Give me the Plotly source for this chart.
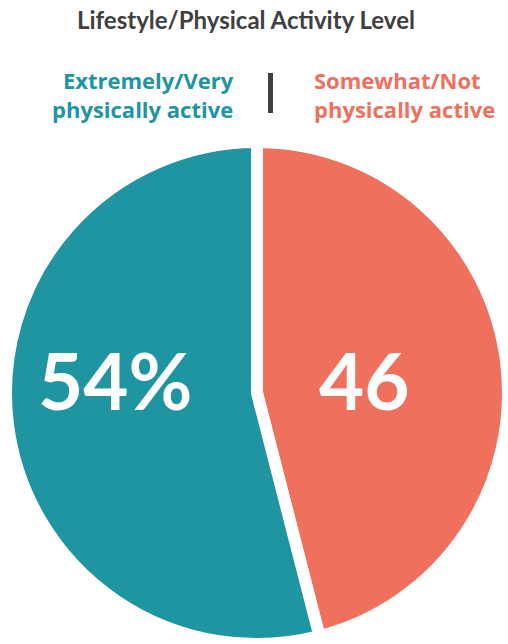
import plotly.graph_objects as go

# Survey split, listed clockwise from 12 o'clock
categories = ["Somewhat/Not physically active", "Extremely/Very physically active"]
values = [46, 54]
colors = ["#EE705D", "#1E95A0"]

title_text = "Lifestyle/Physical Activity Level"
left_label = ["Extremely/Very", "physically active"]
right_label = ["Somewhat/Not", "physically active"]

W, H = 508, 644
FONT = "Lato"
LABEL_FONT = "Open Sans"

# pie geometry in pixels
cx, cy, r = 257, 393, 251

fig = go.Figure(
    go.Pie(
        labels=categories,
        values=values,
        sort=False,
        direction="clockwise",
        rotation=0,
        marker=dict(colors=colors, line=dict(color="white", width=12)),
        textinfo="none",
        hoverinfo="label+percent",
        showlegend=False,
        domain=dict(
            x=[(cx - r) / W, min(1.0, (cx + r) / W)],
            y=[max(0.0, (H - cy - r) / H), (H - cy + r) / H],
        ),
    )
)


def px(x):
    return x / W


def py(y):
    return 1 - y / H


annotations = [
    dict(text=f"<b>{title_text}</b>", x=px(246), y=py(20), xanchor="center", yanchor="middle",
         font=dict(family=FONT, size=24, color="#404040")),
    dict(text="<br>".join(f"<b>{t}</b>" for t in left_label), x=px(236), y=py(95),
         xanchor="right", yanchor="middle", align="right",
         font=dict(family=LABEL_FONT, size=22, color=colors[1])),
    dict(text="<br>".join(f"<b>{t}</b>" for t in right_label), x=px(312), y=py(95),
         xanchor="left", yanchor="middle", align="left",
         font=dict(family=LABEL_FONT, size=22, color=colors[0])),
    # value labels inside the slices
    dict(text=f"<b>{values[1]}%</b>", x=px(115), y=py(380), xanchor="center",
         yanchor="middle", font=dict(family=FONT, size=78, color="white")),
    dict(text=f"<b>{values[0]}</b>", x=px(364), y=py(380), xanchor="center",
         yanchor="middle", font=dict(family=FONT, size=78, color="white")),
]

for a in annotations:
    a.update(xref="paper", yref="paper", showarrow=False)

fig.update_layout(
    width=W,
    height=H,
    margin=dict(l=0, r=0, t=0, b=0),
    paper_bgcolor="white",
    plot_bgcolor="white",
    annotations=annotations,
    shapes=[dict(type="line", xref="paper", yref="paper", x0=px(270.5), x1=px(270.5),
                 y0=py(73), y1=py(113), line=dict(color="#404040", width=5))],
)

fig.write_html("out.html")
